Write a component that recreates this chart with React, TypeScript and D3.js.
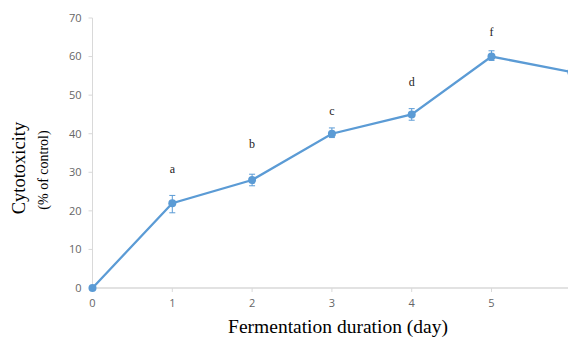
import React from "react";
import * as d3 from "d3";

const days = [0, 1, 2, 3, 4, 5, 6];
const values = [0, 22, 28, 40, 45, 60, 56];
const errLow = [0, 2.5, 1.5, 1.0, 1.5, 1.0, 0];
const errHigh = [0, 2.0, 1.5, 1.5, 1.5, 1.5, 0];
const letters = ["", "a", "b", "c", "d", "f", ""];
const letterY = [0, 31, 37.5, 46, 53.5, 66.5, 0];
const yTicks = [0, 10, 20, 30, 40, 50, 60, 70];
const xTicks = [0, 1, 2, 3, 4, 5];

const W = 568;
const H = 337;

export default function App() {
  const x = d3.scaleLinear().domain([0, 1]).range([92.5, 172.3]);
  const y = d3.scaleLinear().domain([0, 70]).range([288, 18]);
  const pts = days.map((d, i) => [x(d), y(values[i])] as [number, number]);
  const line = d3.line()(pts) || "";
  const color = "#5b9bd5";
  return (
    <svg width={W} height={H} style={{ position: "absolute", left: 0, top: 0, background: "#fff" }}>
      <defs>
        <clipPath id="clip">
          <rect x={0} y={0} width={W} height={H} />
        </clipPath>
      </defs>
      <line x1={x(0)} x2={x(0)} y1={y(70)} y2={y(0)} stroke="#d9d9d9" strokeWidth={1} />
      <line x1={x(0)} x2={W} y1={y(0)} y2={y(0)} stroke="#d9d9d9" strokeWidth={1.5} />
      {yTicks.map((t) => (
        <g key={"y" + t}>
          <line x1={x(0) - 4} x2={x(0)} y1={y(t)} y2={y(t)} stroke="#d9d9d9" />
          <text x={x(0) - 11} y={y(t)} dy="0.35em" textAnchor="end" fontFamily="'Open Sans', sans-serif" fontSize={11} fill="#666">
            {t}
          </text>
        </g>
      ))}
      {xTicks.map((t) => (
        <g key={"x" + t}>
          <line x1={x(t)} x2={x(t)} y1={y(0)} y2={y(0) + 4} stroke="#d9d9d9" />
          <text x={x(t)} y={y(0) + 19} textAnchor="middle" fontFamily="'Open Sans', sans-serif" fontSize={11} fill="#666">
            {t}
          </text>
        </g>
      ))}
      <g clipPath="url(#clip)">
        <path d={line} fill="none" stroke={color} strokeWidth={2.25} />
        {days.map((d, i) =>
          errLow[i] + errHigh[i] > 0 ? (
            <g key={"e" + i} stroke={color} strokeWidth={1}>
              <line x1={x(d)} x2={x(d)} y1={y(values[i] - errLow[i])} y2={y(values[i] + errHigh[i])} />
              <line x1={x(d) - 3} x2={x(d) + 3} y1={y(values[i] - errLow[i])} y2={y(values[i] - errLow[i])} />
              <line x1={x(d) - 3} x2={x(d) + 3} y1={y(values[i] + errHigh[i])} y2={y(values[i] + errHigh[i])} />
            </g>
          ) : null
        )}
        {days.map((d, i) => (
          <circle key={"c" + i} cx={x(d)} cy={y(values[i])} r={4} fill={color} />
        ))}
      </g>
      {days.map((d, i) =>
        letters[i] ? (
          <text key={"l" + i} x={x(d)} y={y(letterY[i])} dy="0.35em" textAnchor="middle" fontFamily="'Liberation Serif', 'Times New Roman', serif" fontSize={12} fill="#222">
            {letters[i]}
          </text>
        ) : null
      )}
      <text transform="translate(25,168) rotate(-90)" textAnchor="middle" fontFamily="'Liberation Serif', 'Times New Roman', serif" fontSize={18.5} fill="#000">
        Cytotoxicity
      </text>
      <text transform="translate(48,170) rotate(-90)" textAnchor="middle" fontFamily="'Liberation Serif', 'Times New Roman', serif" fontSize={14} fill="#000">
        (% of control)
      </text>
      <text x={338} y={333} textAnchor="middle" fontFamily="'Liberation Serif', 'Times New Roman', serif" fontSize={19.5} fill="#000">
        Fermentation duration (day)
      </text>
    </svg>
  );
}
